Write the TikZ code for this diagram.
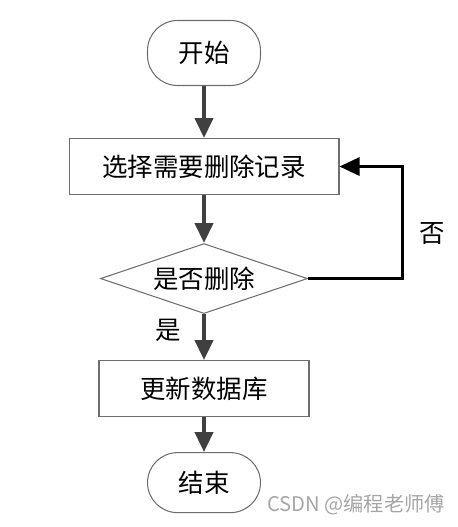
\documentclass[tikz,border=0pt]{standalone}
\usepackage{fontspec}
\setmainfont{Noto Sans CJK SC}
\usepackage{tikz}
\usetikzlibrary{positioning,shapes,arrows.meta,calc}
\definecolor{lineGray}{RGB}{64, 64, 64}
\definecolor{boxGray}{RGB}{110, 110, 110}

\begin{document}
\begin{tikzpicture}[
            x=0.02cm, y=-0.02cm,
            font=\fontsize{14.5}{17}\selectfont,
            term/.style={draw=boxGray, line width=0.6pt, rectangle, rounded corners=0.6cm, minimum width=2.26cm, inner sep=0pt},
            proc/.style={draw=boxGray, line width=0.6pt, rectangle, minimum height=1.12cm, inner sep=0pt},
            decide/.style={draw=boxGray, line width=0.6pt, diamond, aspect=2.96, minimum width=4.14cm, minimum height=1.4cm, inner sep=0pt},
            flow/.style={draw=lineGray, line width=2.3pt, -{Triangle[length=0.4cm, width=0.36cm]}},
            back/.style={draw=black, line width=1.7pt, -{Triangle[length=0.4cm, width=0.36cm]}}
        ]
            \useasboundingbox (0,0) rectangle (457,527);

            \node[term, minimum height=1.3cm] (start) at (204,53) {开始};
            \node[proc, minimum width=5.4cm, below=1.04cm of start] (sel) {选择需要删除记录};
            \node[decide, below=0.96cm of sel] (dec) {是否删除};
            \node[proc, minimum width=4.2cm, below=0.92cm of dec] (upd) {更新数据库};
            \node[term, minimum height=1.2cm, below=0.7cm of upd] (stop) {结束};

            \coordinate (turn) at ([xshift=1.26cm]sel.east);

            \draw[flow] (start) -- (sel);
            \draw[flow] (sel) -- (dec);
            \draw[flow] (dec) -- node[left=0.3cm, pos=0.35] (yes) {是} (upd);
            \draw[flow] (upd) -- (stop);

            \draw[back, rounded corners=0pt] (dec.east) -| (turn) -- (sel.east);
            \node[right=0.22cm] (no) at ($(turn)!0.6!(turn |- dec.east)$) {否};

            \node[text=gray!70, font=\fontsize{11.5}{13}\selectfont, anchor=east] (mark) at (451,505) {CSDN @编程老师傅};
        \end{tikzpicture}
\end{document}
